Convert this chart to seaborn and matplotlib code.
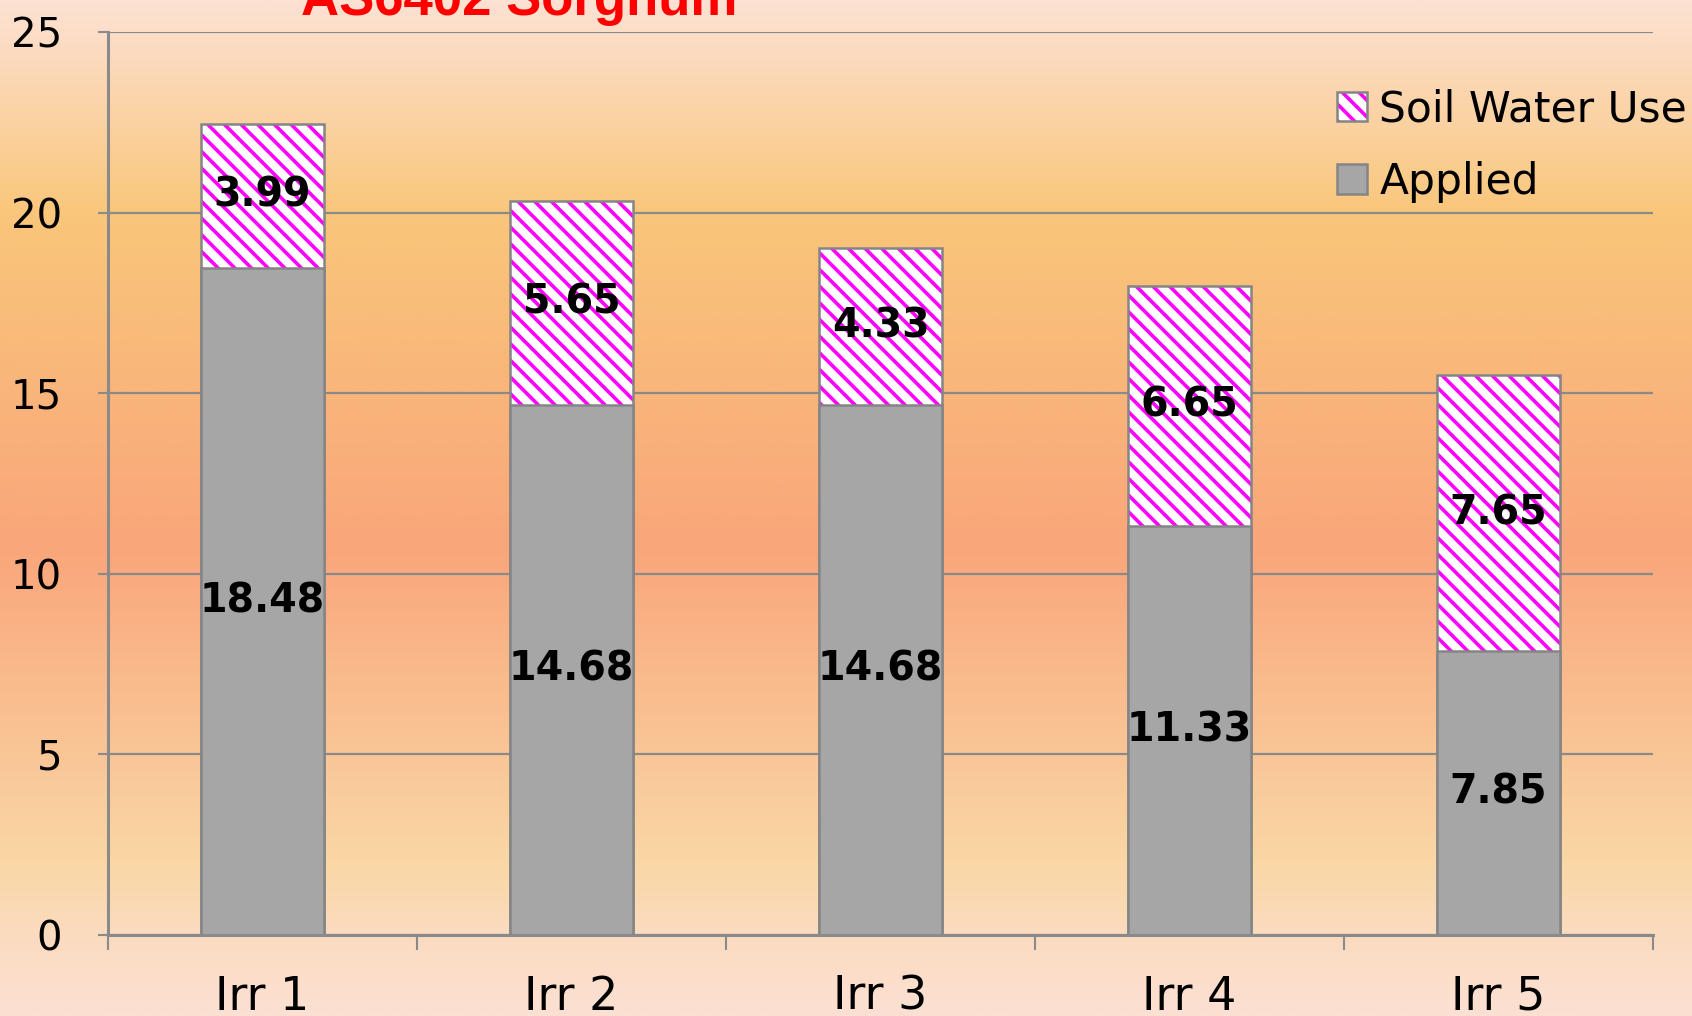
import numpy as np
import pandas as pd
import matplotlib
matplotlib.use("Agg")
import matplotlib.pyplot as plt
from matplotlib.colors import LinearSegmentedColormap
from matplotlib.patches import Patch
from matplotlib.legend_handler import HandlerTuple
import seaborn as sns

# ---- data ----
categories = ["Irr 1", "Irr 2", "Irr 3", "Irr 4", "Irr 5"]
applied = [18.48, 14.68, 14.68, 11.33, 7.85]
soil_water_use = [3.99, 5.65, 4.33, 6.65, 7.65]
title_text = "AS6402 Sorghum"
series_names = ["Soil Water Use", "Applied"]
y_ticks = [0, 5, 10, 15, 20, 25]

totals = [a + s for a, s in zip(applied, soil_water_use)]
df = pd.DataFrame({"cat": categories, "applied": applied,
                   "soil": soil_water_use, "total": totals})

sns.set_theme(style="white")
plt.rcParams["font.family"] = ["DejaVu Sans"]
plt.rcParams["hatch.linewidth"] = 2.6

GRID = "#8A8A8A"
EDGE = "#858585"
GRAY = "#A6A6A6"
MAG = "#FF00FF"

fig = plt.figure(figsize=(16.92, 10.16), dpi=100)

# background gradient
bg = fig.add_axes([0, 0, 1, 1], zorder=-10)
stops = [(0.0, "#FDE2D3"), (0.04, "#FCDCC4"), (0.21, "#F9C67A"),
         (0.54, "#F9A67B"), (0.85, "#FAD7A5"), (0.93, "#FBDCC2"),
         (1.0, "#FCE0D2")]
cmap = LinearSegmentedColormap.from_list("bg", stops)
grad = np.linspace(0, 1, 512).reshape(-1, 1)
bg.imshow(grad, aspect="auto", cmap=cmap, extent=[0, 1, 0, 1], origin="upper")
bg.set_axis_off()

ax = fig.add_axes([0.0638, 0.0802, 0.9132, 0.888])
ax.patch.set_alpha(0)

# soil water use (stacked on top): full-height hatched bar underneath
sns.barplot(data=df, x="cat", y="total", color="white", saturation=1,
            width=0.4, ax=ax, zorder=2, linewidth=0)
for p in ax.patches:
    p.set_hatch("\\\\")
    p.set_edgecolor(MAG)
    p.set_linewidth(0)
    p.set_facecolor("white")
n0 = len(ax.patches)
# outlines of total bars
sns.barplot(data=df, x="cat", y="total", color=EDGE, fill=False,
            width=0.4, ax=ax, zorder=3, linewidth=1.8)
for p in ax.patches[n0:]:
    p.set_edgecolor(EDGE)
    p.set_facecolor("none")
# applied bars
sns.barplot(data=df, x="cat", y="applied", color=GRAY, saturation=1,
            width=0.4, ax=ax, zorder=4, edgecolor=EDGE, linewidth=1.8)

# labels
lab_kw = dict(ha="center", va="center", fontsize=28.5, fontweight="bold",
              color="black", zorder=6)
for i, (a, s) in enumerate(zip(applied, soil_water_use)):
    ax.text(i, a / 2, f"{a:.2f}", **lab_kw)
    ax.text(i, a + s / 2, f"{s:.2f}", **lab_kw)

# axes styling
ax.set_ylim(0, 25)
ax.set_xlim(-0.5, 4.5)
ax.set_yticks(y_ticks)
ax.set_yticklabels([str(t) for t in y_ticks])
ax.set_xticks(range(len(categories)))
ax.set_xticklabels(categories)
ax.set_xticks(np.arange(-0.5, 5.0, 1.0), minor=True)
ax.tick_params(axis="x", which="major", length=0, pad=29, labelsize=33,
               bottom=True)
ax.tick_params(axis="x", which="minor", length=11, width=1.5, color=GRID,
               direction="out", bottom=True)
ax.tick_params(axis="y", which="major", length=7, width=1.5, color=GRID,
               direction="out", pad=26, labelsize=29, left=True)
ax.set_xlabel("")
ax.set_ylabel("")
for t in ax.get_xticklabels() + ax.get_yticklabels():
    t.set_color("black")

ax.yaxis.grid(True, color=GRID, linewidth=1.6, zorder=1)
ax.set_axisbelow(True)
for side in ["top", "right"]:
    ax.spines[side].set_visible(False)
for side in ["left", "bottom"]:
    ax.spines[side].set_color(GRID)
    ax.spines[side].set_linewidth(2.2)
    ax.spines[side].set_zorder(5)

# legend
h_soil = (Patch(facecolor="white", edgecolor=MAG, hatch="\\\\", linewidth=0),
          Patch(facecolor="none", edgecolor=EDGE, linewidth=1.8))
h_app = Patch(facecolor=GRAY, edgecolor=EDGE, linewidth=1.8)
leg = ax.legend([h_soil, h_app], series_names,
                handler_map={tuple: HandlerTuple(ndivide=1, pad=0)},
                loc="upper left", bbox_to_anchor=(0.7955, 0.938),
                frameon=False, fontsize=30.5, handlelength=0.7,
                handleheight=0.7, handletextpad=0.3, labelspacing=0.72,
                borderaxespad=0, borderpad=0)
for t in leg.get_texts():
    t.set_color("black")
leg.set_zorder(7)

# title (partially cut at top of figure)
fig.text(0.307, 1 - 15 / 1016, title_text, ha="center", va="baseline",
         color="#FF0000", fontsize=38, fontweight="bold",
         family=["Liberation Sans", "DejaVu Sans"])

fig.savefig("out.png", dpi=100)
